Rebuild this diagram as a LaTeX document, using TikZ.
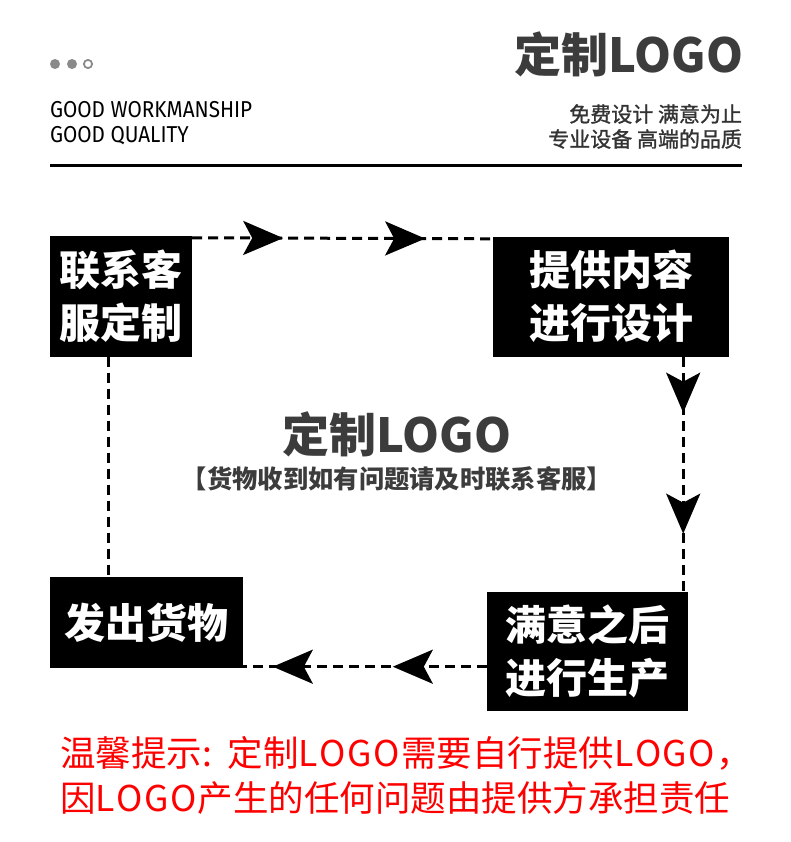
\documentclass[tikz,border=0pt]{standalone}
\usepackage{fontspec}
\newfontfamily\cjk{Noto Sans CJK SC}
\newfontfamily\cjkmed{Noto Sans CJK SC}[FakeBold=1.2]
\newfontfamily\enlight{Fira Sans}[FakeStretch=0.9]
\usetikzlibrary{arrows.meta,decorations.markings}
\definecolor{titlegray}{HTML}{3C3C3C}
\definecolor{subgray}{HTML}{333333}
\definecolor{dotgray}{HTML}{8A8A8A}
\definecolor{warnred}{HTML}{FF0000}
\newcommand\spacedlogo{L\kern1.5pt O\kern1.5pt G\kern1.5pt O\kern1.5pt}
\tikzset{
  tipx/.tip={Stealth[length=40pt,width=34pt,inset=9pt]},
  stepbox/.style={fill=black, inner sep=0pt, text=white, align=center,
    font=\cjk\bfseries\fontsize{41}{53}\selectfont},
  conn/.style={line width=3pt, dash pattern=on 10pt off 6pt},
  twoarrows/.style 2 args={postaction={decorate}, decoration={markings,
    mark=at position #1 with {\arrow{tipx}},
    mark=at position #2 with {\arrow{tipx}}}},
  txt/.style={inner sep=0pt, outer sep=0pt},
}
\begin{document}
\begin{tikzpicture}[x=1pt,y=-1pt]
\useasboundingbox[fill=white] (0,0) rectangle (790,842);

% dots
\fill[dotgray] (55,64) circle (5);
\fill[dotgray] (72,64) circle (5);
\draw[dotgray, line width=1.8pt] (88,64) circle (4.1);

% english header
\node[txt, anchor=base west, font=\enlight\fontsize{23}{26}\selectfont] (en1) at (50,118) {GOOD WORKMANSHIP};
\node[txt, anchor=base west, font=\enlight\fontsize{23}{26}\selectfont] (en2) at (50,143) {GOOD QUALITY};

% title right
\node[txt, anchor=base east, text=titlegray, font=\cjk\bfseries\fontsize{47}{50}\selectfont] (ttl) at (743,73) {定制LOGO};
\node[txt, anchor=base east, text=subgray, font=\cjkmed\fontsize{21}{24}\selectfont] (sub1) at (742,122) {免费设计 满意为止};
\node[txt, anchor=base east, text=subgray, font=\cjkmed\fontsize{21}{24}\selectfont] (sub2) at (742,147) {专业设备 高端的品质};

% rule
\draw[line width=3pt] (50,166) -- (742,166);

% boxes
\node[stepbox, minimum width=142pt, minimum height=121pt] (b1) at (121,296) {联系客\\服定制};
\node[stepbox, minimum width=236pt, minimum height=120pt] (b2) at (611,296.5) {提供内容\\进行设计};
\node[stepbox, minimum width=193pt, minimum height=91pt] (b3) at (146.5,622.5) {发出货物};
\node[stepbox, minimum width=201pt, minimum height=119pt] (b4) at (587.5,651.5) {满意之后\\进行生产};

% centre text
\node[txt, anchor=base, text=titlegray, font=\cjk\bfseries\fontsize{47}{50}\selectfont] (mid) at (397,452) {定制LOGO};
\node[txt, anchor=base, text=titlegray, font=\cjk\bfseries\fontsize{25.3}{28}\selectfont] (note) at (397,488) {【货物收到如有问题请及时联系客服】};

% connectors
\coordinate (t1) at ([yshift=-2.5pt]b1.north east);
\coordinate (t2) at ([yshift=-2.5pt]b2.north west);
\draw[conn, twoarrows={91pt}{233pt}] (t1) -- (t2);

\coordinate (r1) at ([xshift=-46pt]b2.south east);
\draw[conn, twoarrows={56pt}{177pt}] (r1) -- (r1 |- b4.north);

\coordinate (d3) at ([yshift=1.5pt]b3.south east);
\draw[conn, twoarrows={94pt}{214pt}] (b4.west |- d3) -- (d3);

\coordinate (l1) at ([xshift=59pt]b1.south west);
\draw[conn] (l1) -- (l1 |- b3.north);

% red notice
\node[txt, anchor=base west, text=warnred, font=\cjk\fontsize{35.5}{40}\selectfont] (w1) at (60,766) {温馨提示:\kern16pt 定制\spacedlogo 需要自行提供\spacedlogo ，};
\node[txt, anchor=base west, text=warnred, font=\cjk\fontsize{35.5}{40}\selectfont] (w2) at (60,811) {因\spacedlogo 产生的任何问题由提供方承担责任};
\end{tikzpicture}
\end{document}
